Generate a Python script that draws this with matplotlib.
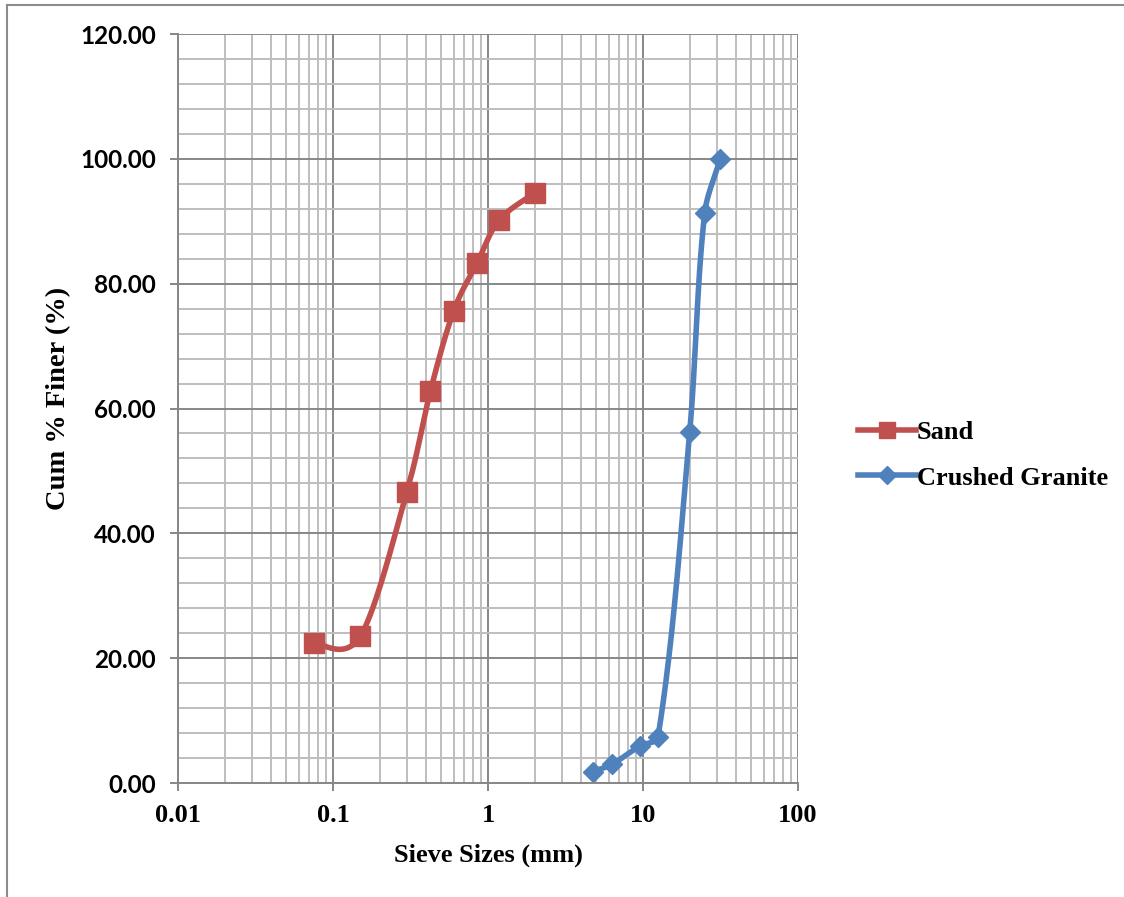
import numpy as np
import matplotlib
matplotlib.use('Agg')
import matplotlib.pyplot as plt
from matplotlib.lines import Line2D
from matplotlib.ticker import FixedLocator, NullFormatter, FixedFormatter

# sieve analysis data
sand_size = [0.075, 0.15, 0.3, 0.425, 0.6, 0.85, 1.18, 2.0]
sand_finer = [22.4, 23.5, 46.7, 62.8, 75.6, 83.3, 90.2, 94.5]

granite_size = [4.75, 6.3, 9.5, 12.5, 20.0, 25.0, 31.5]
granite_finer = [1.8, 3.0, 5.9, 7.4, 56.2, 91.3, 100.0]

x_ticks = [0.01, 0.1, 1, 10, 100]
x_tick_labels = ['0.01', '0.1', '1', '10', '100']
y_ticks = [0, 20, 40, 60, 80, 100, 120]
y_tick_labels = ['%.2f' % v for v in y_ticks]

RED = '#C0504D'
BLUE = '#4F81BD'
SERIF = 'Liberation Serif'
SANS = 'Lato'


def smooth(ax, xs, ys, weighted=False, n=50):
    # excel-like smoothed line: bezier through points, computed in pixel space
    pts = ax.transData.transform(np.column_stack([xs, ys]))
    out = [pts[0]]
    for i in range(len(pts) - 1):
        p0 = pts[i - 1] if i > 0 else pts[i]
        p1 = pts[i]
        p2 = pts[i + 1]
        p3 = pts[i + 2] if i + 2 < len(pts) else pts[i + 1]
        w1 = w2 = 0.5
        if weighted:
            # keep the curve from overshooting next to very short segments
            l01 = np.hypot(*(p1 - p0))
            l12 = np.hypot(*(p2 - p1))
            l23 = np.hypot(*(p3 - p2))
            w1 = l12 / (l01 + l12) if l01 + l12 > 0 else 0.5
            w2 = l12 / (l12 + l23) if l12 + l23 > 0 else 0.5
        c1 = p1 + (p2 - p0) * w1 / 3.0
        c2 = p2 - (p3 - p1) * w2 / 3.0
        t = np.linspace(0, 1, n)[1:, None]
        seg = ((1 - t) ** 3) * p1 + 3 * ((1 - t) ** 2) * t * c1 + 3 * (1 - t) * t ** 2 * c2 + t ** 3 * p2
        out.extend(seg)
    out = np.array(out)
    data = ax.transData.inverted().transform(out)
    return data[:, 0], data[:, 1]


fig = plt.figure(figsize=(11.24, 8.97), dpi=100)
ax = fig.add_axes([178 / 1124, 1 - 783 / 897, 620 / 1124, 749 / 897])
ax.set_xscale('log')
ax.set_xlim(0.01, 100)
ax.set_ylim(0, 120)

ax.xaxis.set_major_locator(FixedLocator(x_ticks))
ax.xaxis.set_major_formatter(FixedFormatter(x_tick_labels))
minor_x = [m * 10.0 ** e for e in range(-2, 2) for m in range(2, 10)]
ax.xaxis.set_minor_locator(FixedLocator(minor_x))
ax.xaxis.set_minor_formatter(NullFormatter())
ax.yaxis.set_major_locator(FixedLocator(y_ticks))
ax.yaxis.set_major_formatter(FixedFormatter(y_tick_labels))
ax.yaxis.set_minor_locator(FixedLocator([v for v in range(0, 121, 4) if v % 20]))

ax.grid(which='major', color='#878787', lw=1.4)
ax.grid(which='minor', color='#BEBEBE', lw=1.4)
ax.set_axisbelow(True)
for s in ax.spines.values():
    s.set_visible(False)
for side in ('left', 'bottom'):
    ax.spines[side].set_visible(True)
    ax.spines[side].set_color('#878787')
    ax.spines[side].set_linewidth(1.4)

ax.tick_params(which='major', length=6, width=1.4, color='#878787')
ax.tick_params(which='minor', length=0)
ax.tick_params(axis='x', pad=9)
ax.tick_params(axis='y', pad=10)
for lab in ax.get_xticklabels():
    lab.set_fontfamily(SERIF)
    lab.set_fontweight('bold')
    lab.set_fontsize(19)
for lab in ax.get_yticklabels():
    lab.set_fontfamily(SANS)
    lab.set_fontweight('bold')
    lab.set_fontsize(17.5)

ax.set_xlabel('Sieve Sizes (mm)', fontfamily=SERIF, fontweight='bold', fontsize=19, labelpad=12)
ax.set_ylabel('Cum % Finer (%)', fontfamily=SERIF, fontweight='bold', fontsize=20.5)
ax.yaxis.set_label_coords(-0.172, 0.513)

sx, sy = smooth(ax, sand_size, sand_finer)
ax.plot(sx, sy, color=RED, lw=4, solid_capstyle='round', clip_on=False)
ax.plot(sand_size, sand_finer, ls='none', marker='s', ms=14, color=RED, clip_on=False)

gx, gy = smooth(ax, granite_size, granite_finer, weighted=True)
ax.plot(gx, gy, color=BLUE, lw=4, solid_capstyle='round', clip_on=False)
ax.plot(granite_size, granite_finer, ls='none', marker='D', ms=10, color=BLUE, clip_on=False)

handles = [Line2D([], [], color=RED, lw=4, marker='s', ms=12),
           Line2D([], [], color=BLUE, lw=4, marker='D', ms=9)]
leg = fig.legend(handles, ['Sand', 'Crushed Granite'], loc='center left',
                 bbox_to_anchor=(834 / 1124, 1 - 455 / 897), frameon=False,
                 handlelength=2.2, handletextpad=0.05, labelspacing=0.85,
                 prop={'family': SERIF, 'weight': 'bold', 'size': 19})

# outer chart frame (top and left edges only visible)
fig.add_artist(Line2D([7 / 1124, 7 / 1124], [0, 1 - 5 / 897], color='#8C8C8C', lw=1.5))
fig.add_artist(Line2D([7 / 1124, 1], [1 - 5 / 897, 1 - 5 / 897], color='#8C8C8C', lw=1.5))

fig.savefig('out.png', dpi=100)
